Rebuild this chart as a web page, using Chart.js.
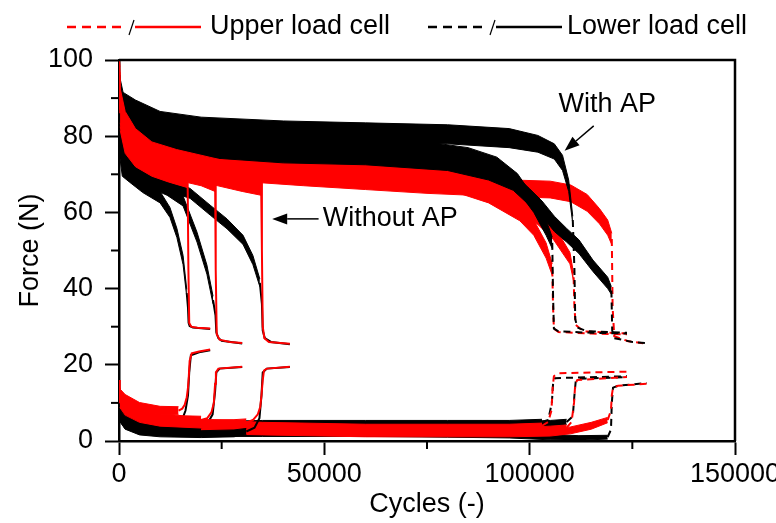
<!DOCTYPE html>
<html>
<head>
<meta charset="utf-8">
<script src="https://cdn.jsdelivr.net/npm/chart.js@4.4.0/dist/chart.umd.min.js"></script>
<style>
  html, body { margin: 0; padding: 0; background: #fff; }
  #wrap { position: relative; width: 776px; height: 523px; }
</style>
</head>
<body>
<div id="wrap"><canvas id="chart" width="776" height="523"></canvas></div>
<script>
// ─────────────────────────────────────────────
// Force vs cycles, upper / lower load cell, tests with and without AP
// each group holds 3 tests; noise = half width of the noisy band (0 = clean line)
// ─────────────────────────────────────────────
const FONT = 'Arial, "Liberation Sans", sans-serif';
const RED = '#ff0000', BLACK = '#000000';

const xTicks = [0, 50000, 100000, 150000];
const xMinor = [25000, 75000, 125000];
const yMinor = [10, 30, 50, 70, 90];

// upper load cell, without AP (solid)
const upRedNoAP_cyc = [
  [0, 300, 1500, 4000, 8000, 12000, 16700, 16900, 17100, 17600, 19000, 22200],
  [0, 300, 1500, 4000, 8000, 14000, 20000, 23400, 23550, 23800, 24500, 27000, 30000],
  [0, 300, 1500, 4000, 8000, 14000, 22000, 30000, 34600, 34800, 35000, 35400, 36500, 41600]
];
const upRedNoAP_F = [
  [100, 86, 80, 76, 73, 71.5, 70, 45, 31, 30, 29.7, 29.5],
  [100, 87, 81, 77, 74, 72, 70.5, 69, 45, 28, 26.6, 26, 25.7],
  [100, 88, 82, 78, 75, 73, 71, 69, 68, 50, 30, 27, 26, 25.5]
];
const upRedNoAP_noise = [
  [0, 4.5, 4.5, 4, 3.5, 3.5, 3.5, 0, 0, 0, 0, 0],
  [0, 4.5, 4.5, 4, 3.5, 3.5, 3.5, 3.5, 0, 0, 0, 0, 0],
  [0, 4.5, 4.5, 4, 3.5, 3.5, 3.5, 3.5, 3.5, 0, 0, 0, 0, 0]
];

const upBlackNoAP_cyc = [
  [0, 150, 800, 2500, 5800, 10000, 12400, 14100, 15600, 16500, 16800, 16950, 17200, 18000, 22200],
  [0, 150, 800, 2500, 6000, 11700, 15600, 19000, 21400, 22900, 23500, 23700, 24200, 25000, 30000],
  [0, 150, 800, 2500, 6000, 12000, 17300, 22200, 26300, 30200, 32600, 34300, 34800, 35000, 35500, 37000, 41600]
];
const upBlackNoAP_F = [
  [95, 78, 72, 70, 67, 64, 60, 54.6, 47.5, 38.8, 35, 31, 30.2, 29.8, 29.4],
  [95, 80, 75, 72, 69, 66, 63, 53.5, 45, 37, 33, 28.5, 27, 26.3, 25.6],
  [96, 82, 76, 73, 70, 67, 65, 60.6, 57, 52.8, 47.5, 41.5, 36, 29, 27, 26, 25.4]
];
const upBlackNoAP_noise = [
  [0, 3, 2.5, 2, 1.8, 1.5, 1.3, 1.2, 1.2, 1, 0, 0, 0, 0, 0],
  [0, 3, 2.5, 2, 1.8, 1.5, 1.3, 1.3, 1.2, 1, 0, 0, 0, 0, 0],
  [0, 3, 2.5, 2, 1.8, 1.5, 1.3, 1.3, 1.3, 1.2, 1.2, 1, 0, 0, 0, 0, 0]
];

// upper load cell, with AP (dashed)
const upRedAP_cyc = [
  [0, 200, 1000, 4000, 10000, 25000, 45000, 65000, 80000, 90000, 97600, 101000, 104000, 105500, 105700, 105900, 107000, 115000, 123700],
  [0, 200, 1000, 4000, 10000, 25000, 45000, 60000, 75000, 85000, 95000, 97600, 102000, 105700, 109800, 110700, 110900, 111200, 113000, 123700],
  [0, 200, 1000, 4000, 10000, 25000, 45000, 60000, 75000, 90000, 105000, 110000, 114000, 117000, 119000, 120000, 120200, 120600, 124000, 128500]
];
const upRedAP_F = [
  [100, 85, 80, 76, 74, 72.5, 71.5, 70.5, 68.5, 65, 60, 56, 50, 45, 35, 29.5, 28.6, 28.2, 28],
  [100, 88, 84, 81, 79, 78, 77.5, 76.5, 74, 71, 65, 62, 59, 55, 48, 43, 35, 30.5, 28.8, 28.2],
  [100, 84, 78, 75, 73, 71, 69.5, 68.5, 67.5, 66.5, 66, 65, 62.5, 59, 56, 53, 35, 27.5, 26.2, 25.5]
];
const upRedAP_noise = [
  [0, 2.5, 2.5, 2.5, 2.5, 2.5, 2.5, 2.5, 2.5, 2.5, 2.2, 2, 2, 1.5, 0, 0, 0, 0, 0],
  [0, 2, 2, 2, 2, 2, 2, 2, 2.5, 2.5, 2.5, 2.2, 2.2, 2, 1.5, 1, 0, 0, 0, 0],
  [0, 2.5, 2.5, 2.5, 2.5, 2.5, 2.5, 2.5, 2.5, 2.2, 2.2, 2.2, 2.2, 2, 2, 1.5, 0, 0, 0, 0]
];

const upBlackAP_cyc = [
  [0, 200, 1000, 4000, 10000, 20000, 40000, 60000, 75000, 85000, 92000, 97000, 101000, 104000, 105500, 105700, 105900, 107000, 115000, 123700],
  [0, 200, 1000, 4000, 10000, 20000, 40000, 60000, 80000, 95000, 102000, 106000, 108000, 109500, 110500, 110900, 111100, 111600, 114000, 123700],
  [0, 200, 1000, 4000, 10000, 20000, 40000, 60000, 80000, 90000, 96000, 100000, 103000, 106000, 109000, 112000, 115400, 119000, 119900, 120100, 120600, 125000, 128500]
];
const upBlackAP_F = [
  [96, 91, 87, 84, 81, 79, 78, 77, 76, 74.5, 72, 68, 62, 56, 52, 38, 29.5, 28.8, 28.4, 28.2],
  [97, 93, 89, 87, 84, 82.5, 81.5, 81, 80.5, 79.5, 78, 76, 73, 67, 58, 45, 32, 29.8, 28.8, 28.4],
  [96, 90, 86, 82, 79, 77, 75.5, 75, 73.5, 71, 68, 64, 61, 57, 54, 51, 46, 41.5, 39.5, 29, 27, 26, 25.7]
];
const upBlackAP_noise = [
  [0, 2.5, 2.5, 2.5, 2.5, 2.5, 2.5, 2.5, 2.5, 2.5, 2.5, 2.2, 2, 2, 1.5, 0, 0, 0, 0, 0],
  [0, 2.5, 2.5, 2.5, 2.5, 2.5, 2.5, 2.5, 2.5, 2.5, 2.2, 2, 2, 1.5, 1, 0, 0, 0, 0, 0],
  [0, 2.5, 2.5, 2.5, 2.5, 2.5, 2.5, 2.5, 2.5, 2.5, 2.2, 2.2, 2, 2, 1.8, 1.8, 1.5, 1.5, 1, 0, 0, 0, 0]
];

// lower load cell, without AP (solid)
const lowRedNoAP_cyc = [
  [0, 200, 1500, 5000, 10000, 14500, 15400, 16000, 16500, 16800, 17000, 17200, 17700, 19500, 22200],
  [0, 200, 1500, 5000, 10000, 16000, 20000, 21500, 22500, 23100, 23400, 23600, 24200, 30000],
  [0, 200, 1500, 5000, 10000, 20000, 28000, 31000, 32600, 33800, 34400, 34700, 35000, 35300, 36000, 41600]
];
const lowRedNoAP_F = [
  [16, 12.5, 11, 9, 8, 8, 8.5, 9.5, 11.5, 14, 17, 21, 23, 23.5, 24],
  [14, 11, 9, 7, 6, 5.5, 5.5, 6, 7.5, 10, 15, 18, 19, 19.5],
  [13, 10, 8, 6, 5, 4.5, 4.5, 4.8, 5.5, 7, 9, 12, 16, 18.5, 19, 19.5]
];
const lowRedNoAP_noise = [
  [0, 1.2, 1.2, 1.1, 1.1, 1, 0, 0, 0, 0, 0, 0, 0, 0, 0],
  [0, 1.2, 1.2, 1.1, 1.1, 1.1, 1, 0, 0, 0, 0, 0, 0, 0],
  [0, 1.2, 1.2, 1.1, 1.1, 1.1, 1.1, 1, 0, 0, 0, 0, 0, 0, 0, 0]
];

const lowBlackNoAP_cyc = [
  [0, 200, 1500, 5000, 10000, 14500, 15500, 16200, 16800, 17100, 17500, 19500, 22200],
  [0, 200, 1500, 5000, 10000, 16000, 20000, 21500, 22800, 23400, 23700, 24500, 30000],
  [0, 200, 1500, 5000, 10000, 20000, 28000, 31000, 33000, 34200, 34700, 35000, 36000, 41600]
];
const lowBlackNoAP_F = [
  [13, 9, 7.5, 6, 5.5, 5.5, 6, 8, 12, 18, 22.5, 23.3, 23.8],
  [11, 7, 5.5, 4, 3.5, 3.3, 3.5, 4.5, 7, 13, 18, 19, 19.4],
  [10, 6, 4, 2.5, 2, 1.8, 2, 2.5, 3.5, 6, 12, 18, 19, 19.4]
];
const lowBlackNoAP_noise = [
  [0, 0.9, 0.9, 0.9, 0.9, 0.8, 0, 0, 0, 0, 0, 0, 0],
  [0, 0.9, 0.9, 0.9, 0.9, 0.9, 0.8, 0, 0, 0, 0, 0, 0],
  [0, 0.9, 0.9, 0.9, 0.9, 0.9, 0.9, 0.8, 0, 0, 0, 0, 0, 0]
];

// lower load cell, with AP (dashed)
const lowRedAP_cyc = [
  [0, 200, 1500, 5000, 15000, 35000, 60000, 80000, 95000, 103000, 104500, 105300, 105600, 105900, 107000, 123700],
  [0, 200, 1500, 5000, 15000, 35000, 60000, 80000, 95000, 105000, 109000, 110200, 110800, 111100, 111600, 123700],
  [0, 200, 1500, 5000, 15000, 35000, 60000, 80000, 95000, 105000, 110000, 115000, 119000, 119800, 120000, 120300, 121500, 128500]
];
const lowRedAP_F = [
  [14, 10, 8, 6, 5, 4, 3.5, 3.5, 3.5, 4, 5, 8, 14, 17, 17.8, 18.2],
  [13, 9, 7, 5, 4, 3, 2.5, 2.5, 2.5, 3, 3.5, 5, 10, 15, 16, 16.8],
  [12, 8, 6, 4, 3, 2.5, 2, 2, 2, 2.2, 2.8, 4, 5.5, 8, 12, 14, 14.5, 15]
];
const lowRedAP_noise = [
  [0, 0.9, 0.9, 0.9, 0.9, 0.9, 0.9, 0.9, 0.9, 0.7, 0, 0, 0, 0, 0, 0],
  [0, 0.9, 0.9, 0.9, 0.9, 0.9, 0.9, 0.9, 0.9, 0.9, 0.7, 0, 0, 0, 0, 0],
  [0, 0.9, 0.9, 0.9, 0.9, 0.9, 0.9, 0.9, 0.9, 0.9, 0.9, 0.9, 0.7, 0, 0, 0, 0, 0]
];

const lowBlackAP_cyc = [
  [0, 200, 1500, 5000, 15000, 35000, 60000, 80000, 95000, 103000, 104500, 105400, 105700, 106200, 123700],
  [0, 200, 1500, 5000, 15000, 35000, 60000, 80000, 95000, 105000, 109000, 110500, 110900, 111200, 112000, 123700],
  [0, 200, 1500, 5000, 15000, 35000, 60000, 80000, 95000, 105000, 112000, 119000, 119800, 120000, 120300, 121500, 128500]
];
const lowBlackAP_F = [
  [12, 8, 6, 4.5, 4, 4.5, 4.5, 4.5, 4.5, 5, 5.5, 10, 15, 16.5, 17],
  [11, 7, 5, 3.5, 3, 3.5, 4, 4, 4, 4.5, 5, 6.5, 12, 15.5, 16.3, 16.8],
  [10, 6, 4, 3, 2, 2, 2, 1.8, 1.5, 1, 0.8, 1, 3, 10, 14, 14.5, 15.2]
];
const lowBlackAP_noise = [
  [0, 0.9, 0.9, 0.9, 0.9, 0.9, 0.9, 0.9, 0.9, 0.7, 0, 0, 0, 0, 0],
  [0, 0.9, 0.9, 0.9, 0.9, 0.9, 0.9, 0.9, 0.9, 0.9, 0.7, 0, 0, 0, 0, 0],
  [0, 0.8, 0.8, 0.8, 0.8, 0.8, 0.8, 0.8, 0.7, 0.7, 0.6, 0.5, 0, 0, 0, 0, 0]
];

const datasets = [];

// noisy stretch = filled band between hi and lo edge; order: higher = drawn underneath
function addGroup(cycs, forces, noises, color, dashed, order) {
  cycs.forEach((cyc, t) => {
    const F = forces[t], N = noises[t];
    const line = cyc.map((c, i) => ({ x: c, y: F[i] }));
    const noisy = cyc.map((c, i) => i).filter(i => N[i] > 0);
    const hi = noisy.map(i => ({ x: cyc[i], y: F[i] + N[i] }));
    const lo = noisy.map(i => ({ x: cyc[i], y: F[i] - N[i] }));
    const base = { pointRadius: 0, tension: 0, order, clip: 0 };
    datasets.push({ ...base, data: hi, borderColor: color, borderWidth: 1, fill: false });
    datasets.push({ ...base, data: lo, borderColor: color, borderWidth: 1, fill: '-1', backgroundColor: color });
    datasets.push({
      ...base, data: line, borderColor: color, borderWidth: 2, fill: false,
      borderDash: dashed ? [7, 5] : [],
      segment: { borderColor: s => (N[s.p0DataIndex] > 0 && N[s.p1DataIndex] > 0) ? 'rgba(0,0,0,0)' : color }
    });
  });
}

addGroup(lowBlackAP_cyc, lowBlackAP_F, lowBlackAP_noise, BLACK, true, 8);
addGroup(lowRedAP_cyc, lowRedAP_F, lowRedAP_noise, RED, true, 7);
addGroup(lowBlackNoAP_cyc, lowBlackNoAP_F, lowBlackNoAP_noise, BLACK, false, 6);
addGroup(lowRedNoAP_cyc, lowRedNoAP_F, lowRedNoAP_noise, RED, false, 5);
addGroup(upRedAP_cyc, upRedAP_F, upRedAP_noise, RED, true, 4);
addGroup(upBlackAP_cyc, upBlackAP_F, upBlackAP_noise, BLACK, true, 3);
addGroup(upBlackNoAP_cyc, upBlackNoAP_F, upBlackNoAP_noise, BLACK, false, 2);
addGroup(upRedNoAP_cyc, upRedNoAP_F, upRedNoAP_noise, RED, false, 1);

// ─────────────────────────────────────────────
// frame, minor ticks, legend, annotations
// ─────────────────────────────────────────────
function seg(ctx, x1, y1, x2, y2) {
  ctx.beginPath(); ctx.moveTo(x1, y1); ctx.lineTo(x2, y2); ctx.stroke();
}

function arrow(ctx, x1, y1, x2, y2) {
  const dx = x2 - x1, dy = y2 - y1, len = Math.hypot(dx, dy);
  const ux = dx / len, uy = dy / len, hl = 15, hw = 5.5;
  const bx = x2 - ux * hl, by = y2 - uy * hl;
  ctx.lineWidth = 1.5;
  seg(ctx, x1, y1, bx, by);
  ctx.beginPath();
  ctx.moveTo(x2, y2);
  ctx.lineTo(bx - uy * hw, by + ux * hw);
  ctx.lineTo(bx + uy * hw, by - ux * hw);
  ctx.closePath();
  ctx.fill();
}

function legendItem(ctx, x, y, color, textX, text) {
  ctx.strokeStyle = color; ctx.lineWidth = 2.5;
  ctx.setLineDash([9, 6]);
  seg(ctx, x, y, x + 58, y);
  ctx.setLineDash([]);
  ctx.strokeStyle = '#000'; ctx.lineWidth = 1.2;
  seg(ctx, x + 62, y + 8, x + 67, y - 7);
  ctx.strokeStyle = color; ctx.lineWidth = 2.5;
  seg(ctx, x + 68, y, x + 134, y);
  ctx.fillStyle = '#000';
  ctx.font = '27px ' + FONT;
  ctx.textAlign = 'left'; ctx.textBaseline = 'middle';
  ctx.fillText(text, textX, y);
}

const decor = {
  id: 'decor',
  afterDraw(chart) {
    const ctx = chart.ctx, a = chart.chartArea;
    const xs = chart.scales.x, ys = chart.scales.y;
    ctx.save();
    ctx.strokeStyle = '#000'; ctx.fillStyle = '#000';
    ctx.lineWidth = 2.5;
    ctx.beginPath();
    ctx.moveTo(a.left, a.top); ctx.lineTo(a.right, a.top); ctx.lineTo(a.right, a.bottom);
    ctx.stroke();

    ctx.lineWidth = 2;
    xMinor.forEach(v => { const p = xs.getPixelForValue(v); seg(ctx, p, a.bottom, p, a.bottom + 8); });
    yMinor.forEach(v => { const p = ys.getPixelForValue(v); seg(ctx, a.left - 8, p, a.left, p); });

    legendItem(ctx, 67, 27, RED, 210, 'Upper load cell');
    legendItem(ctx, 428, 27, BLACK, 567, 'Lower load cell');

    ctx.font = '27px ' + FONT;
    ctx.textAlign = 'left'; ctx.textBaseline = 'middle';
    ctx.fillText('Without AP', xs.getPixelForValue(49600), ys.getPixelForValue(58.3));
    arrow(ctx, xs.getPixelForValue(48600), ys.getPixelForValue(58.3), xs.getPixelForValue(37300), ys.getPixelForValue(58.3));
    ctx.fillText('With AP', xs.getPixelForValue(107000), ys.getPixelForValue(88.3));
    arrow(ctx, xs.getPixelForValue(115600), ys.getPixelForValue(82.7), xs.getPixelForValue(108500), ys.getPixelForValue(76.2));
    ctx.restore();
  }
};

new Chart(document.getElementById('chart'), {
  type: 'line',
  data: { datasets },
  options: {
    responsive: false,
    animation: false,
    devicePixelRatio: 1,
    events: [],
    layout: { padding: { top: 60, right: 41, left: 0, bottom: 0 } },
    plugins: { legend: { display: false }, tooltip: { enabled: false } },
    scales: {
      x: {
        type: 'linear', min: 0, max: 150000,
        afterBuildTicks: s => { s.ticks = xTicks.map(v => ({ value: v })); },
        afterFit: s => { s.height = 82; s.paddingLeft = 0; s.paddingRight = 0; },
        ticks: { color: '#000', font: { family: FONT, size: 27 }, padding: 3, maxRotation: 0, callback: v => String(v) },
        grid: { drawOnChartArea: false, color: '#000', tickLength: 14, tickWidth: 2, tickColor: '#000' },
        border: { display: true, color: '#000', width: 2.5 },
        title: { display: true, text: 'Cycles (-)', color: '#000', font: { family: FONT, size: 27 }, padding: { top: 0, bottom: 2 } }
      },
      y: {
        type: 'linear', min: 0, max: 100,
        ticks: { stepSize: 20, color: '#000', font: { family: FONT, size: 27 }, padding: 12 },
        afterFit: s => { s.width = 119; s.paddingTop = 0; s.paddingBottom = 0; },
        grid: { drawOnChartArea: false, color: '#000', tickLength: 14, tickWidth: 2, tickColor: '#000' },
        border: { display: true, color: '#000', width: 2.5 },
        title: { display: true, text: 'Force (N)', color: '#000', font: { family: FONT, size: 27 }, padding: { top: 14, bottom: 0 } }
      }
    }
  },
  plugins: [decor]
});
</script>
</body>
</html>
